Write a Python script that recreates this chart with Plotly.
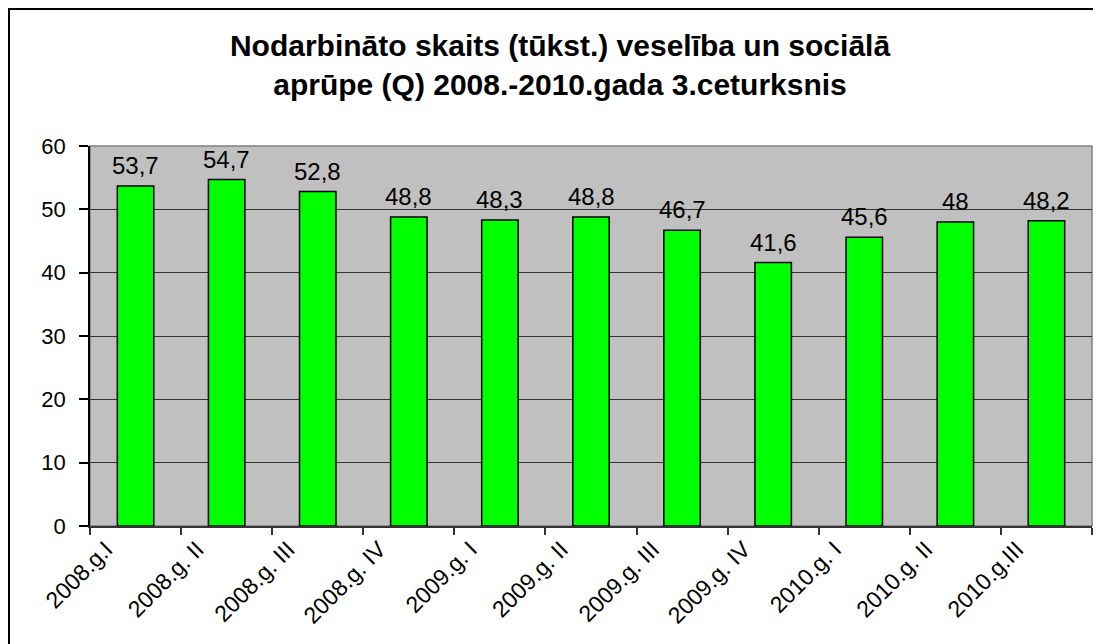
import numpy as np
import plotly.graph_objects as go

categories = ["2008.g.I", "2008.g. II", "2008.g. III", "2008.g. IV",
              "2009.g. I", "2009.g. II", "2009.g. III", "2009.g. IV",
              "2010.g. I", "2010.g. II", "2010.g.III"]
values = [53.7, 54.7, 52.8, 48.8, 48.3, 48.8, 46.7, 41.6, 45.6, 48.0, 48.2]
value_labels = ["53,7", "54,7", "52,8", "48,8", "48,3", "48,8", "46,7", "41,6", "45,6", "48", "48,2"]
y_ticks = [0, 10, 20, 30, 40, 50, 60]
title_text = "Nodarbināto skaits (tūkst.) veselība un sociālā<br>aprūpe (Q) 2008.-2010.gada 3.ceturksnis"

FONT = "Liberation Sans, Arial, sans-serif"
n = len(categories)
centers = np.arange(n) + 0.5
W, H = 1101, 644
OFF = 8  # page body margin
ml, mt = 90 - OFF, 146 - OFF
pw, ph = 1002, 380
mr = W - ml - pw
mb = H - mt - ph

fig = go.Figure()
fig.add_trace(go.Bar(
    x=centers, y=values, width=0.4,
    marker=dict(color="#00FF00", line=dict(color="black", width=1.5)),
    hoverinfo="skip",
))

for xc, v, lab in zip(centers, values, value_labels):
    fig.add_annotation(x=xc, y=v, text=lab, showarrow=False, yanchor="bottom",
                       yshift=5, font=dict(family=FONT, size=24, color="black"))

# outer chart border (top and left visible)
fig.add_shape(type="rect", xref="paper", yref="paper",
              x0=(1 - ml) / pw, x1=(W + 40 - ml) / pw,
              y0=-(mb + 40) / ph, y1=(H - mb - 1) / ph,
              line=dict(color="black", width=2), fillcolor="rgba(0,0,0,0)", layer="below")

fig.update_layout(
    width=W, height=H,
    margin=dict(l=ml, r=mr, t=mt, b=mb, autoexpand=False),
    paper_bgcolor="white", plot_bgcolor="#C0C0C0",
    showlegend=False,
    title=dict(text=title_text, x=(560 - OFF) / W, xanchor="center", xref="container",
               y=1 - (56 - OFF) / H, yanchor="middle", yref="container",
               font=dict(family=FONT, size=30, color="black", weight="bold")),
    font=dict(family=FONT, color="black"),
)
fig.update_xaxes(
    range=[0, n], tickmode="array", tickvals=list(range(n + 1)),
    ticktext=categories + [""], tickangle=-45,
    ticks="outside", ticklen=7, tickcolor="#333", tickwidth=1.5,
    showgrid=False, zeroline=False, automargin=False,
    showline=True, linecolor="#333", linewidth=1.5, mirror=False,
    ticklabelshift=16, ticklabelstandoff=-8,
    tickfont=dict(family=FONT, size=23, color="black"),
)
fig.update_yaxes(
    range=[0, 60], tickmode="array", tickvals=y_ticks,
    ticks="outside", ticklen=9, tickcolor="black", tickwidth=1.5,
    showgrid=True, gridcolor="#333", gridwidth=1, automargin=False,
    zeroline=False, showline=True, linecolor="black", linewidth=1.5,
    ticklabelstandoff=9,
    tickfont=dict(family=FONT, size=22, color="black"),
)
# gray plot-area border on top and right
fig.add_shape(type="rect", xref="paper", yref="paper", x0=0, x1=1, y0=0, y1=1,
              line=dict(color="#808080", width=1.5), layer="below")

fig.write_html("out.html")
